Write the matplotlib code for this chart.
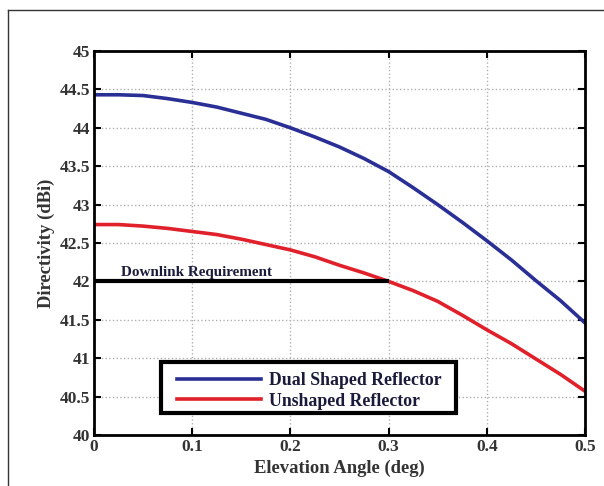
import matplotlib
matplotlib.use("Agg")
import matplotlib.pyplot as plt
from matplotlib.lines import Line2D
from matplotlib.patches import Rectangle

angle = [0.0, 0.025, 0.05, 0.075, 0.1, 0.125, 0.15, 0.175, 0.2, 0.225, 0.25,
         0.275, 0.3, 0.325, 0.35, 0.375, 0.4, 0.425, 0.45, 0.475, 0.5]
dual_shaped = [44.43, 44.43, 44.42, 44.38, 44.33, 44.27, 44.19, 44.11, 44.00, 43.88, 43.75,
               43.60, 43.43, 43.22, 43.00, 42.77, 42.53, 42.28, 42.01, 41.75, 41.46]
unshaped = [42.74, 42.74, 42.72, 42.69, 42.65, 42.61, 42.55, 42.48, 42.41, 42.32, 42.21,
            42.11, 42.00, 41.88, 41.74, 41.56, 41.37, 41.19, 40.99, 40.79, 40.57]
req_x = [0.0, 0.3]
req_y = [42.0, 42.0]

xticks = [0, 0.1, 0.2, 0.3, 0.4, 0.5]
xticklabels = ["0", "0.1", "0.2", "0.3", "0.4", "0.5"]
yticks = [40, 40.5, 41, 41.5, 42, 42.5, 43, 43.5, 44, 44.5, 45]
yticklabels = ["40", "40.5", "41", "41.5", "42", "42.5", "43", "43.5", "44", "44.5", "45"]

plt.rcParams['font.family'] = ['Liberation Serif', 'DejaVu Serif']
plt.rcParams['font.weight'] = 'bold'

fig = plt.figure(figsize=(6.04, 4.86), dpi=100)
W, H = 604, 486
AX_L, AX_R, AX_T, AX_B = 94, 585, 51, 435
ax = fig.add_axes([AX_L / W, 1 - AX_B / H, (AX_R - AX_L) / W, (AX_B - AX_T) / H])


def px2ax(px, py):
    return ((px - AX_L) / (AX_R - AX_L), (AX_B - py) / (AX_B - AX_T))


# outer frame lines
fig.add_artist(Line2D([8 / W, 1.0], [1 - 10 / H, 1 - 10 / H], color='#333333', lw=1.0))
fig.add_artist(Line2D([8 / W, 8 / W], [1 - 10 / H, 0.0], color='#333333', lw=1.0))

ax.plot(angle, dual_shaped, color='#2a2f96', lw=2.6, label='Dual Shaped Reflector')
ax.plot(angle, unshaped, color='#e0202a', lw=2.6, label='Unshaped Reflector')
ax.plot(req_x, req_y, color='black', lw=3.0, solid_capstyle='butt')
ax.text(0.028, 42.07, 'Downlink Requirement', fontsize=10.9, fontweight='bold', color='#1a1a3a')

ax.set_xlim(0, 0.5)
ax.set_ylim(40, 45)
ax.set_xticks(xticks)
ax.set_xticklabels(xticklabels)
ax.set_yticks(yticks)
ax.set_yticklabels(yticklabels)
ax.tick_params(direction='in', top=True, right=True, length=5, width=1.5, labelsize=12.5, pad=3)
for lab in ax.get_xticklabels() + ax.get_yticklabels():
    lab.set_fontweight('bold')
    lab.set_color('#333333')
ax.grid(True, linestyle=':', color='#b0b0b0', lw=1.0)
for s in ax.spines.values():
    s.set_linewidth(2.0)

ax.set_xlabel('Elevation Angle (deg)', fontsize=13.4, fontweight='bold', color='#333333', labelpad=3)
ax.set_ylabel('Directivity (dBi)', fontsize=13.4, fontweight='bold', color='#333333', labelpad=3)

# legend frame
x0, y0 = px2ax(161, 413)
x1, y1 = px2ax(456, 362)
ax.add_patch(Rectangle((x0, y0), x1 - x0, y1 - y0, transform=ax.transAxes, facecolor='white',
                       edgecolor='black', lw=3.0, zorder=4))
lx, ly = px2ax(177, 372)
leg = ax.legend(loc='upper left', bbox_to_anchor=(lx, ly), frameon=False, fontsize=12.8,
                handlelength=4.7, borderpad=0, labelspacing=0.2, handletextpad=0.5, borderaxespad=0)
leg.set_zorder(5)
for t in leg.get_texts():
    t.set_fontweight('bold')
    t.set_color('#1a1a3a')

fig.savefig('out.png', dpi=100)
